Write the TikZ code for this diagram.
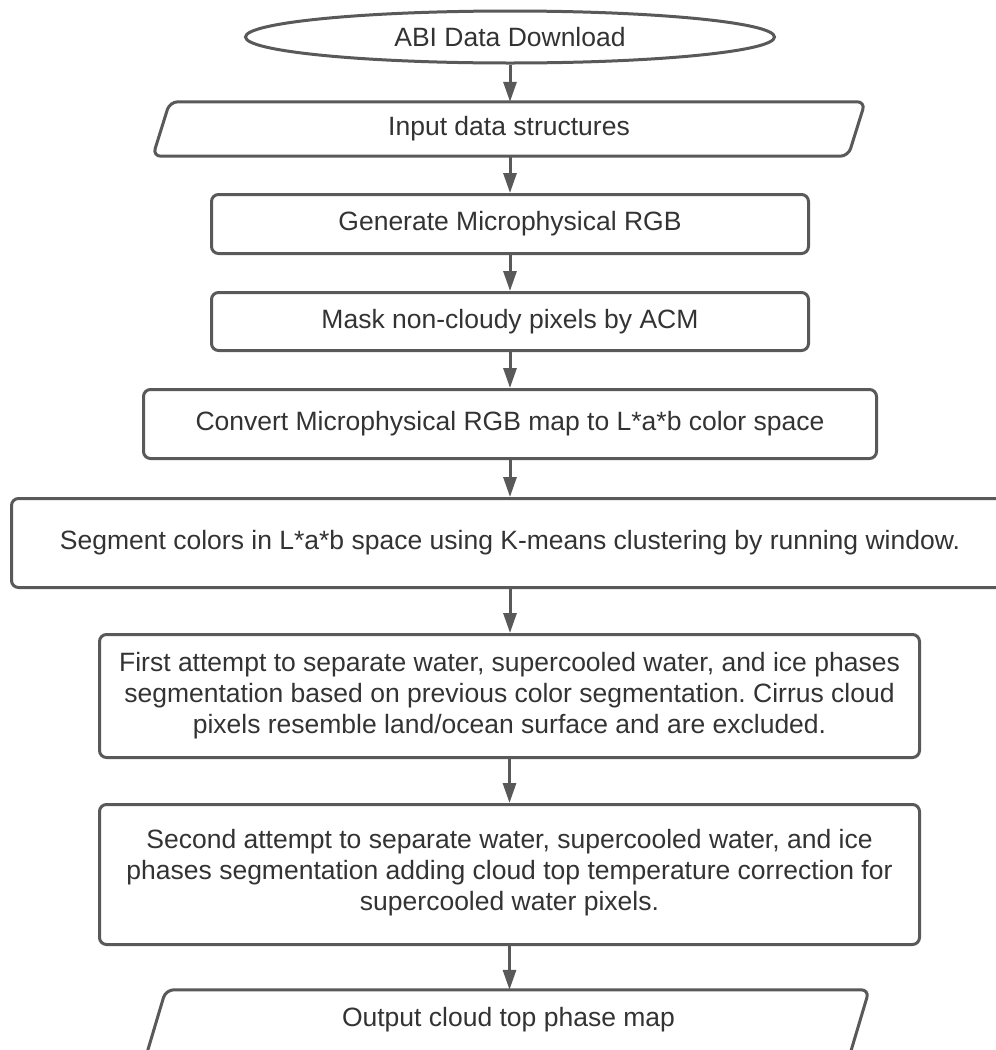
\documentclass[tikz,border=0pt]{standalone}
\usepackage{fontspec}
\setmainfont{Liberation Sans}
\usetikzlibrary{shapes.geometric,arrows.meta,calc}
\definecolor{edgegray}{RGB}{89,89,89}
\definecolor{inkgray}{RGB}{51,51,51}
\frenchspacing
\begin{document}
\begin{tikzpicture}[x=1pt,y=-1pt,
  every node/.style={text=inkgray, font=\fontsize{26.5}{31}\selectfont},
  flowbox/.style={draw=edgegray, line width=3pt, rounded corners=7pt, fill=white,
                  inner sep=0pt, align=center},
  iobox/.style={inner sep=0pt},
  ioline/.style={draw=edgegray, line width=3pt, rounded corners=8pt},
  flow/.style={draw=edgegray, line width=3pt, -{Triangle[width=13pt,length=20pt]}},
]
\useasboundingbox (0,0) rectangle (996,1050);
\clip (0,0) rectangle (996,1050);
\fill[white] (0,0) rectangle (996,1050);

% start terminal
\node[draw=edgegray, line width=3pt, ellipse, inner sep=0pt,
      minimum width=529pt, minimum height=52pt] (start) at (510,37) {ABI Data Download};

% input data (parallelogram)
\node[iobox, minimum width=712pt, minimum height=54pt] (input) at (509,129) {Input data structures};
\draw[ioline] ($(input.north west)+(17,0)$) -- (input.north east)
  -- ($(input.south east)+(-17,0)$) -- (input.south west) -- cycle;

% processing steps
\node[flowbox, minimum width=597pt, minimum height=59pt] (rgb) at (510,224) {Generate Microphysical RGB};
\node[flowbox, minimum width=597pt, minimum height=58pt] (mask) at (510,321.5) {Mask non-cloudy pixels by ACM};
\node[flowbox, minimum width=733pt, minimum height=69pt] (lab) at (510,424) {Convert Microphysical RGB map to L*a*b color space};
\node[flowbox, minimum width=997pt, minimum height=89pt] (kmeans) at (510,543)
  {Segment colors in L*a*b space using K-means clustering by running window.};
\node[flowbox, minimum width=820pt, minimum height=123pt] (first) at (509.5,696)
  {First attempt to separate water, supercooled water, and ice phases\\
   segmentation based on previous color segmentation. Cirrus cloud\\
   pixels resemble land/ocean surface and are excluded.};
\node[flowbox, minimum width=820pt, minimum height=140pt] (second) at (509.5,874.5)
  {Second attempt to separate water, supercooled water, and ice\\
   phases segmentation adding cloud top temperature correction for\\
   supercooled water pixels.\rule[-10pt]{0pt}{1pt}};

% output (parallelogram running past the lower edge)
\node[iobox, minimum width=721pt, minimum height=60pt] (output) at (508.5,1020) {Output cloud top phase map};
\draw[ioline] ($(output.south west)+(-3,10)$) -- ($(output.north west)+(18,0)$)
  -- (output.north east) -- ($(output.south east)+(-21,10)$);

% connectors
\draw[flow] (start.south) -- (start.south |- input.north);
\draw[flow] (input.south -| rgb.north) -- (rgb.north);
\draw[flow] (rgb.south) -- (mask.north);
\draw[flow] (mask.south) -- (lab.north);
\draw[flow] (lab.south) -- (kmeans.north);
\draw[flow] (kmeans.south) -- (kmeans.south |- first.north);
\draw[flow] (first.south) -- (second.north);
\draw[flow] (second.south) -- (second.south |- output.north);
\end{tikzpicture}
\end{document}
